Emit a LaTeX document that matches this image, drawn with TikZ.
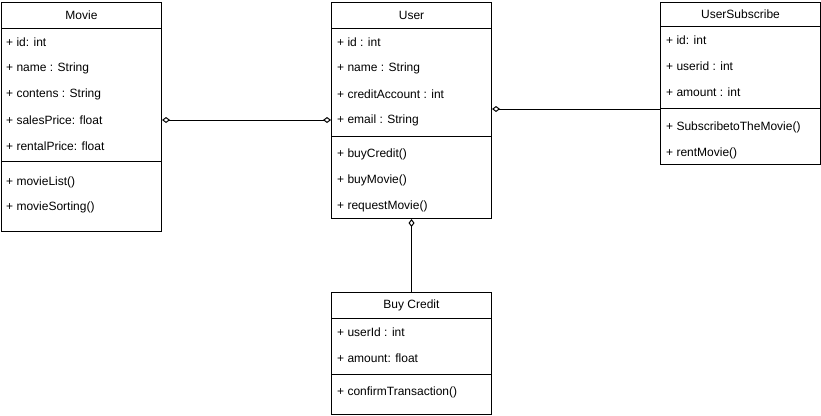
\documentclass[tikz,border=0pt]{standalone}
\usepackage{fontspec}
\setmainfont{Liberation Sans}
\usetikzlibrary{positioning,arrows.meta}
\tikzset{%
  box/.style={draw, line width=1pt, rectangle, anchor=north west, inner sep=0pt,
    minimum width=160pt, font=\fontsize{12}{14}\selectfont},% class compartment
  member/.style={anchor=west, inner sep=0pt, font=\fontsize{12}{14}\selectfont},% attribute or operation
  aggr/.style={line width=1pt, {Diamond[open,length=8pt,width=6pt]}-},% aggregation, diamond at start
  aggrboth/.style={line width=1pt, {Diamond[open,length=8pt,width=6pt]}-{Diamond[open,length=8pt,width=6pt]}}
}

\begin{document}
\begin{tikzpicture}[x=1pt, y=-1pt]
\useasboundingbox (0,0) rectangle (821,415);

% Movie
\node[box, minimum height=26pt] (moviehead) at (1,2) {Movie};
\node[box, minimum height=133pt] (movieattr) at (1,28) {};
\node[box, minimum height=70pt] (moviemeth) at (1,161) {};
\node[member] (mid) at (6,42) {+ id: int};
\node[member] (mname) at (6,68) {+ name : String};
\node[member] (mcont) at (6,94) {+ contens : String};
\node[member] (msales) at (6,120) {+ salesPrice: float};
\node[member] (mrent) at (6,146) {+ rentalPrice: float};
\node[member] (mlist) at (6,182) {+ movieList()};
\node[member] (msort) at (6,207) {+ movieSorting()};

% User
\node[box, minimum height=26pt] (userhead) at (331,2) {User};
\node[box, minimum height=108pt] (userattr) at (331,28) {};
\node[box, minimum height=82pt] (usermeth) at (331,136) {};
\node[member] (uid) at (337,42) {+ id : int};
\node[member] (uname) at (337,68) {+ name : String};
\node[member] (ucredit) at (337,94) {+ creditAccount : int};
\node[member] (umail) at (337,120) {+ email : String};
\node[member] (ubuy) at (337,154) {+ buyCredit()};
\node[member] (umovie) at (337,180) {+ buyMovie()};
\node[member] (ureq) at (337,206) {+ requestMovie()};

% UserSubscribe
\node[box, minimum height=24pt] (subhead) at (660,2) {UserSubscribe};
\node[box, minimum height=82pt] (subattr) at (660,26) {};
\node[box, minimum height=56pt] (submeth) at (660,108) {};
\node[member] (sid) at (666,40) {+ id: int};
\node[member] (suser) at (666,66) {+ userid : int};
\node[member] (samount) at (666,92) {+ amount : int};
\node[member] (ssub) at (666,127) {+ SubscribetoTheMovie()};
\node[member] (srent) at (666,153) {+ rentMovie()};

% Buy Credit
\node[box, minimum height=26pt] (buyhead) at (331,292) {Buy Credit};
\node[box, minimum height=56pt] (buyattr) at (331,318) {};
\node[box, minimum height=40pt] (buymeth) at (331,374) {};
\node[member] (buser) at (337,332) {+ userId : int};
\node[member] (bamount) at (337,358) {+ amount: float};
\node[member] (bconfirm) at (337,392) {+ confirmTransaction()};

% aggregations
\draw[aggrboth] (movieattr.east |- msales) -- (userattr.west |- msales);
\draw[aggr] (userattr.east |- subattr.south west) -- (subattr.south west);
\draw[aggr] (usermeth.south) -- (buyhead.north);

\end{tikzpicture}
\end{document}
